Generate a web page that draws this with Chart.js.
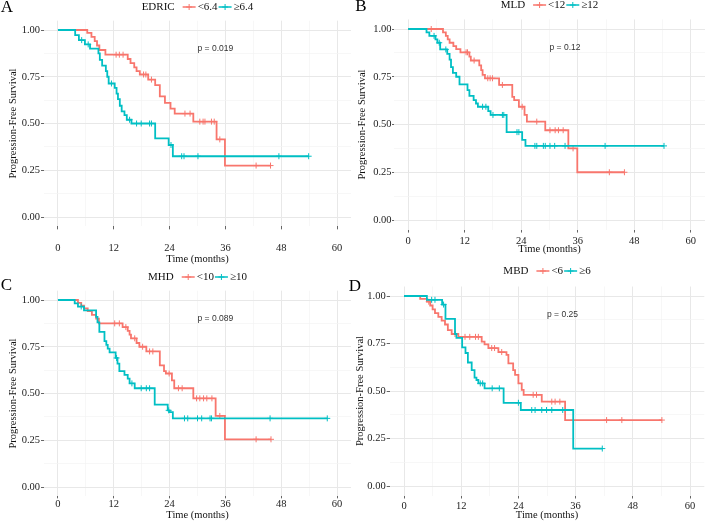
<!DOCTYPE html>
<html>
<head>
<meta charset="utf-8">
<script src="https://cdn.jsdelivr.net/npm/chart.js@4.4.1/dist/chart.umd.min.js"></script>
<style>
  body { margin: 0; background: #fff; }
  #wrap { position: relative; width: 709px; height: 522px; overflow: hidden; }
  canvas { position: absolute; }
</style>
</head>
<body>
<div id="wrap">
  <canvas id="cA"></canvas>
  <canvas id="cB"></canvas>
  <canvas id="cC"></canvas>
  <canvas id="cD"></canvas>
</div>
<script>
// axis ticks (months / survival)
const xGrid = [0, 6, 12, 18, 24, 30, 36, 42, 48, 54, 60];
const xTicks = [0, 12, 24, 36, 48, 60];
const yGrid = [0, 0.125, 0.25, 0.375, 0.5, 0.625, 0.75, 0.875, 1];
const yTicks = [0, 0.25, 0.5, 0.75, 1];
const yTickLabels = ['0.00', '0.25', '0.50', '0.75', '1.00'];
const pPos = [30, 0.9];

// panel A - EDRIC
const aName = 'EDRIC';
const aGroups = ['<6.4', '\u22656.4'];
const aP = 'p = 0.019';
const aLoT = [0, 6.3, 7.2, 7.9, 8.4, 8.9, 10.2, 15.0, 15.6, 16.4, 16.9, 17.6, 19.4, 20.9, 21.9, 23.0, 24.2, 25.1, 29.1, 34.1, 35.9];
const aLoS = [1, .985, .963, .94, .917, .893, .868, .845, .823, .80, .78, .762, .735, .705, .645, .61, .58, .553, .51, .415, .275];
const aLoC = [12.5, 13.2, 14.0, 18.4, 18.9, 20.1, 27.3, 28.4, 30.5, 31.2, 31.6, 33.0, 33.6, 34.8, 42.6, 45.7];
const aHiT = [0, 3.7, 4.5, 5.8, 6.9, 8.7, 9.0, 9.5, 10.3, 10.6, 10.9, 12.2, 12.6, 12.9, 13.3, 13.7, 14.3, 14.8, 15.8, 20.9, 23.8, 24.7];
const aHiS = [1, .973, .946, .923, .9, .875, .84, .81, .78, .75, .714, .69, .66, .63, .595, .565, .545, .52, .5, .42, .385, .325];
const aHiC = [5.1, 6.5, 11.5, 15.4, 16.9, 17.9, 19.7, 20.1, 24.3, 26.6, 27.1, 30.1, 47.5, 53.9];

// panel B - MLD
const bName = 'MLD';
const bGroups = ['<12', '\u226512'];
const bP = 'p = 0.12';
const bLoT = [0, 7.4, 8.0, 8.4, 8.8, 9.6, 10.2, 11.1, 13.0, 13.3, 15.1, 15.5, 15.8, 16.3, 19.3, 22.1, 22.5, 23.5, 24.7, 25.2, 29.1, 34.0, 35.9];
const bLoS = [1, .982, .964, .946, .928, .91, .895, .878, .855, .835, .81, .785, .76, .742, .707, .645, .628, .593, .55, .515, .47, .375, .25];
const bLoC = [4.9, 12.3, 12.6, 14.0, 16.9, 17.4, 17.9, 20.0, 24.2, 27.3, 30.1, 31.2, 31.9, 32.9, 35.0, 42.7, 45.9];
const bHiT = [0, 3.9, 4.5, 5.8, 6.2, 6.8, 8.3, 8.8, 9.1, 9.5, 10.2, 10.9, 12.6, 13.0, 13.9, 14.4, 14.8, 17.0, 17.5, 20.9, 24.2, 24.9];
const bHiS = [1, .982, .964, .946, .928, .893, .87, .84, .80, .77, .75, .71, .68, .65, .628, .61, .593, .57, .55, .46, .42, .388];
const bHiC = [5.5, 6.6, 8.0, 15.8, 16.5, 18.0, 20.0, 20.3, 23.1, 23.5, 26.9, 27.3, 28.7, 29.1, 30.1, 31.1, 33.3, 41.8, 54.3];

// panel C - MHD
const cName = 'MHD';
const cGroups = ['<10', '\u226510'];
const cP = 'p = 0.089';
const cLoT = [0, 4.3, 5.0, 5.6, 6.4, 7.3, 8.2, 8.8, 13.9, 15.0, 15.4, 15.7, 16.9, 17.5, 19.0, 21.9, 22.8, 23.2, 24.5, 25.0, 29.1, 33.9, 35.9];
const cLoS = [1, .985, .97, .955, .94, .92, .9, .875, .855, .835, .815, .795, .77, .75, .725, .65, .62, .607, .57, .528, .474, .38, .255];
const cLoC = [12.2, 13.2, 14.6, 16.5, 18.2, 19.7, 20.4, 23.9, 25.9, 26.7, 29.8, 30.5, 31.3, 32.0, 33.1, 34.8, 42.6, 45.8];
const cHiT = [0, 3.6, 4.3, 5.6, 8.2, 8.5, 8.9, 10.0, 10.4, 10.7, 11.1, 12.4, 12.8, 13.2, 14.3, 15.0, 15.4, 16.5, 20.8, 23.6, 24.0, 24.7];
const cHiS = [1, .982, .965, .945, .91, .88, .83, .78, .76, .74, .72, .69, .66, .62, .60, .58, .554, .528, .44, .41, .40, .367];
const cHiC = [5.0, 12.6, 15.9, 17.9, 19.0, 19.7, 23.8, 27.2, 27.9, 30.0, 30.9, 32.7, 33.0, 45.6, 57.9];

// panel D - MBD
const dName = 'MBD';
const dGroups = ['<6', '\u22656'];
const dP = 'p = 0.25';
const dLoT = [0, 3.4, 4.8, 5.5, 6.0, 6.5, 7.2, 7.9, 8.6, 9.2, 10.0, 11.4, 16.3, 16.9, 17.7, 19.8, 21.5, 21.9, 22.9, 23.3, 24.0, 24.7, 25.1, 28.9, 33.8];
const dLoS = [1, .985, .97, .95, .93, .91, .89, .87, .85, .82, .80, .785, .76, .745, .726, .705, .69, .645, .61, .585, .54, .506, .48, .444, .347];
const dLoC = [5.2, 10.7, 12.8, 13.8, 15.0, 15.6, 18.4, 19.0, 20.5, 27.1, 27.8, 31.0, 31.7, 32.7, 42.5, 45.7, 54.1];
const dHiT = [0, 4.8, 8.0, 8.7, 10.7, 11.0, 12.2, 12.9, 13.4, 14.2, 14.8, 15.2, 15.6, 16.9, 20.9, 24.5, 35.5];
const dHiS = [1, .98, .955, .88, .80, .78, .73, .70, .65, .61, .57, .558, .54, .514, .438, .40, .197];
const dHiC = [5.8, 6.5, 8.3, 16.0, 16.5, 18.5, 20.0, 24.0, 26.8, 27.5, 28.9, 29.9, 31.0, 33.3, 41.6];

const RED = '#F8766D';
const CYAN = '#00BFC4';
const SERIF = '"Liberation Serif", "DejaVu Serif", serif';
const SANS = '"Liberation Sans", Arial, sans-serif';

// event points + censor marks (censor sits on the current step)
function kmPoints(T, S, C) {
  var pts = T.map(function(t, i){ return {x: t, y: S[i], cens: false}; });
  C.forEach(function(t){
    var y = 1;
    T.forEach(function(tt, i){ if (tt <= t) y = S[i]; });
    pts.push({x: t, y: y, cens: true});
  });
  return pts.sort(function(a, b){ return a.x - b.x || (a.cens ? 1 : -1); });
}

const panels = [
  {id: 'cA', left: 0, top: 0, w: 355, h: 266, area: {l: 44, r: 352, t: 20.65, b: 226.35},
   xTickLen: 3, xTickPad: 12.3, xTitlePad: 0.2, yTickLen: 3, yTickPad: 1, yTitlePad: 6.7,
   legendY: 7, letter: 'A', letterX: 7, letterY: 8,
   name: aName, groups: aGroups, p: aP, lo: [aLoT, aLoS, aLoC], hi: [aHiT, aHiS, aHiC]},
  {id: 'cB', left: 355, top: 0, w: 354, h: 256, area: {l: 39, r: 353.3, t: 19.45, b: 229.55},
   xTickLen: 3, xTickPad: 1.9, xTitlePad: 0.4, yTickLen: 2, yTickPad: 0.5, yTitlePad: 0.5,
   legendY: 5, letter: 'B', letterX: 6, letterY: 7,
   name: bName, groups: bGroups, p: bP, lo: [bLoT, bLoS, bLoC], hi: [bHiT, bHiS, bHiC]},
  {id: 'cC', left: 0, top: 262, w: 355, h: 260, area: {l: 44, r: 352, t: 28.65, b: 234.35},
   xTickLen: 2, xTickPad: 0, xTitlePad: 0, yTickLen: 3, yTickPad: 1, yTitlePad: 7,
   legendY: 15, letter: 'C', letterX: 6.5, letterY: 24,
   name: cName, groups: cGroups, p: cP, lo: [cLoT, cLoS, cLoC], hi: [cHiT, cHiS, cHiC]},
  {id: 'cD', left: 345, top: 262, w: 364, h: 260, area: {l: 44.7, r: 359.3, t: 24.5, b: 233.5},
   xTickLen: 3, xTickPad: 1.2, xTitlePad: 0, yTickLen: 3, yTickPad: 1, yTitlePad: 8.7,
   legendY: 9, letter: 'D', letterX: 10, letterY: 24.5,
   name: dName, groups: dGroups, p: dP, lo: [dLoT, dLoS, dLoC], hi: [dHiT, dHiS, dHiC]}
];

function drawCross(ctx, x, y, r, color) {
  ctx.strokeStyle = color;
  ctx.lineWidth = 1;
  ctx.beginPath();
  ctx.moveTo(x - r, y); ctx.lineTo(x + r, y);
  ctx.moveTo(x, y - r); ctx.lineTo(x, y + r);
  ctx.stroke();
}

function makeTextPlugin(p) {
  return {
    id: 'kmText',
    afterDraw: function(chart) {
      var ctx = chart.ctx, ca = chart.chartArea;
      ctx.save();
      // panel letter
      ctx.fillStyle = '#000';
      ctx.font = '17px ' + SERIF;
      ctx.textAlign = 'center';
      ctx.textBaseline = 'middle';
      ctx.fillText(p.letter, p.letterX, p.letterY);

      // legend: title, then key + label per group
      ctx.font = '11px ' + SERIF;
      ctx.textAlign = 'left';
      var keyW = 13, gapTitle = 8, gapLab = 2, gapKey = 1;
      var wTitle = ctx.measureText(p.name).width;
      var wLabs = p.groups.map(function(g){ return ctx.measureText(g).width; });
      var total = wTitle + gapTitle;
      wLabs.forEach(function(w, i){ total += keyW + gapLab + w + (i ? gapKey : 0); });
      var x = (ca.left + ca.right) / 2 - total / 2;
      var y = p.legendY;
      ctx.fillStyle = '#111';
      ctx.fillText(p.name, x, y);
      x += wTitle + gapTitle;
      [RED, CYAN].forEach(function(col, i){
        if (i) x += gapKey;
        ctx.strokeStyle = col;
        ctx.lineWidth = 1.5;
        ctx.beginPath(); ctx.moveTo(x, y); ctx.lineTo(x + keyW, y); ctx.stroke();
        drawCross(ctx, x + keyW / 2, y, 3, col);
        x += keyW + gapLab;
        ctx.fillStyle = '#111';
        ctx.fillText(p.groups[i], x, y);
        x += wLabs[i];
      });

      // p value
      var xs = chart.scales.x, ys = chart.scales.y;
      ctx.font = '8.5px ' + SANS;
      ctx.fillStyle = '#333';
      ctx.fillText(p.p, xs.getPixelForValue(pPos[0]), ys.getPixelForValue(pPos[1]));
      ctx.restore();
    }
  };
}

function makePanel(p) {
  var cv = document.getElementById(p.id);
  cv.width = p.w; cv.height = p.h;
  cv.style.left = p.left + 'px';
  cv.style.top = p.top + 'px';

  function series(arr, col) {
    var pts = kmPoints(arr[0], arr[1], arr[2]);
    return {
      data: pts,
      borderColor: col,
      backgroundColor: col,
      borderWidth: 1.8,
      stepped: true,
      fill: false,
      pointStyle: 'cross',
      pointRadius: function(c){ var d = c.raw; return d && d.cens ? 3 : 0; },
      pointBorderColor: col,
      pointBorderWidth: 1,
      pointHoverRadius: 0
    };
  }

  new Chart(cv, {
    type: 'line',
    data: { datasets: [series(p.hi, CYAN), series(p.lo, RED)] },
    options: {
      responsive: false,
      animation: false,
      devicePixelRatio: 1,
      events: [],
      layout: { padding: { left: 0, top: p.area.t, right: p.w - p.area.r, bottom: 0 } },
      plugins: { legend: { display: false }, tooltip: { enabled: false } },
      scales: {
        x: {
          type: 'linear', min: -3, max: 63,
          afterBuildTicks: function(s){ s.ticks = xGrid.map(function(v){ return {value: v}; }); },
          afterFit: function(s){ s.height = p.h - p.area.b; },
          border: { display: false },
          grid: {
            color: function(c){ return xTicks.indexOf(c.tick.value) >= 0 ? '#e8e8e8' : '#f4f4f4'; },
            lineWidth: function(c){ return xTicks.indexOf(c.tick.value) >= 0 ? 1 : 0.7; },
            tickColor: function(c){ return xTicks.indexOf(c.tick.value) >= 0 ? '#666' : 'rgba(0,0,0,0)'; },
            tickLength: p.xTickLen
          },
          ticks: {
            autoSkip: false, maxRotation: 0, padding: p.xTickPad,
            color: '#222', font: { family: SERIF, size: 10.5 },
            callback: function(v){ return xTicks.indexOf(v) >= 0 ? String(v) : ''; }
          },
          title: { display: true, text: 'Time (months)', color: '#111',
                   font: { family: SERIF, size: 10.5 }, padding: { top: 0, bottom: p.xTitlePad } }
        },
        y: {
          type: 'linear', min: -0.05, max: 1.05,
          afterBuildTicks: function(s){ s.ticks = yGrid.map(function(v){ return {value: v}; }); },
          afterFit: function(s){ s.width = p.area.l; },
          border: { display: false },
          grid: {
            color: function(c){ return yTicks.indexOf(c.tick.value) >= 0 ? '#e8e8e8' : '#f4f4f4'; },
            lineWidth: function(c){ return yTicks.indexOf(c.tick.value) >= 0 ? 1 : 0.7; },
            tickColor: function(c){ return yTicks.indexOf(c.tick.value) >= 0 ? '#666' : 'rgba(0,0,0,0)'; },
            tickLength: p.yTickLen
          },
          ticks: {
            autoSkip: false, padding: p.yTickPad,
            color: '#222', font: { family: SERIF, size: 10.5 },
            callback: function(v){ var i = yTicks.indexOf(v); return i >= 0 ? yTickLabels[i] : ''; }
          },
          title: { display: true, text: 'Progression-Free Survival', color: '#111',
                   font: { family: SERIF, size: 10.5 }, padding: { top: p.yTitlePad, bottom: 0 } }
        }
      }
    },
    plugins: [makeTextPlugin(p)]
  });
}

panels.forEach(makePanel);
</script>
</body>
</html>
